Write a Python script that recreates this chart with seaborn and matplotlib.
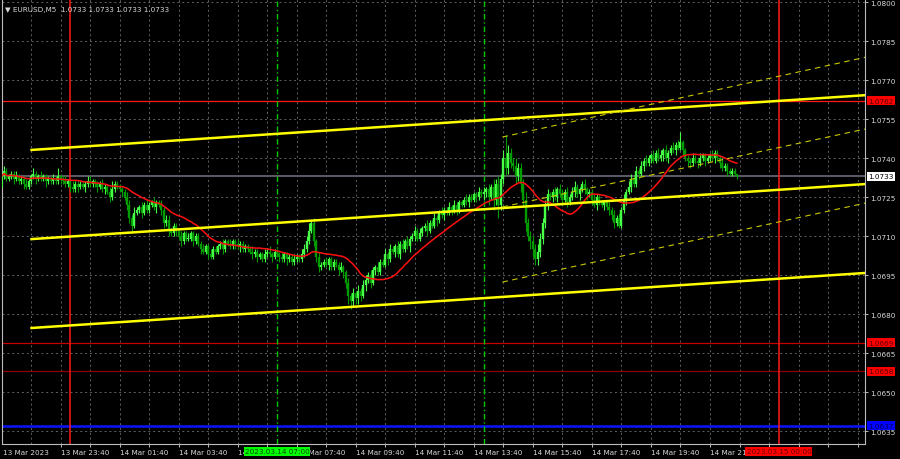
import numpy as np
import pandas as pd
import seaborn as sns
import matplotlib.pyplot as plt
from matplotlib.transforms import blended_transform_factory

# M5 closes in pips above 1.0700, first bar = 13 Mar 21:40 (bar -28, 14 Mar 00:00 = bar 0)
first_bar = -28
closes = [33, 35, 32, 33, 34, 32, 33, 31, 32, 30, 29, 31, 33, 34, 32, 33,
          32, 33, 31, 32, 31, 32, 31, 33, 32, 31, 30, 31, 29, 28, 30, 29,
          30, 29, 30, 31, 30, 31, 30, 29, 30, 28, 29, 27, 25, 28, 30, 29,
          28, 27, 25, 22, 17, 14, 19, 20, 21, 19, 22, 20, 22, 23, 21, 23,
          22, 20, 15, 16, 12, 11, 14, 12, 10, 8, 11, 9, 9, 11, 8, 10,
          7, 5, 4, 6, 3, 2, 5, 4, 6, 7, 5, 8, 7, 6, 8, 7,
          6, 7, 5, 6, 5, 4, 3, 4, 2, 3, 1, 3, 4, 3, 2, 4,
          3, 2, 1, 3, 1, 2, 0, 1, 2, 1, 3, 5, 8, 12, 15, 8,
          2, -2, -1, 0, -1, 1, -2, 0, -1, -3, -2, -4, -8, -13, -15, -12,
          -14, -11, -13, -9, -7, -5, -8, -3, -2, -4, 0, -1, 3, 1, 5, 4,
          6, 3, 7, 5, 8, 6, 9, 10, 12, 9, 11, 13, 14, 12, 15, 14,
          17, 16, 19, 18, 20, 19, 21, 20, 22, 20, 23, 22, 24, 23, 25, 24,
          26, 25, 27, 26, 27, 28, 25, 29, 24, 30, 22, 32, 40, 36, 42, 38,
          37, 33, 36, 30, 24, 15, 10, 8, 5, 1, 4, 9, 15, 22, 26, 25,
          27, 25, 28, 26, 24, 27, 23, 25, 27, 29, 26, 28, 30, 28, 26, 27,
          24, 22, 25, 23, 22, 23, 21, 20, 18, 15, 17, 14, 20, 24, 27, 29,
          32, 30, 35, 34, 37, 39, 38, 40, 41, 39, 42, 40, 41, 43, 40, 42,
          44, 43, 45, 44, 46, 43, 40, 39, 38, 40, 39, 38, 40, 41, 39, 40,
          41, 40, 42, 40, 38, 36, 37, 35, 34, 35, 34, 33]
wick_up = [1, 2, 1, 1, 1, 1, 2, 1, 1, 1, 2, 1, 1, 2, 1, 1,
           2, 1, 1, 1, 1, 2, 1, 3, 1, 1, 2, 1, 1, 2, 1, 1,
           1, 1, 1, 2, 2, 1, 1, 1, 1, 2, 1, 1, 2, 3, 1, 1,
           1, 1, 1, 2, 2, 1, 2, 1, 1, 2, 1, 2, 1, 1, 2, 1,
           1, 2, 1, 2, 2, 1, 1, 1, 1, 2, 1, 1, 2, 1, 1, 1,
           1, 1, 2, 1, 1, 2, 1, 1, 1, 1, 2, 1, 1, 2, 1, 1,
           2, 1, 1, 1, 1, 1, 2, 1, 1, 1, 1, 2, 1, 2, 1, 1,
           1, 1, 2, 1, 1, 1, 1, 2, 1, 1, 2, 2, 2, 3, 1, 2,
           1, 2, 1, 1, 2, 1, 1, 1, 1, 1, 2, 1, 1, 2, 1, 2,
           1, 2, 1, 2, 2, 1, 2, 1, 1, 2, 1, 1, 2, 1, 2, 1,
           1, 2, 1, 2, 1, 2, 1, 1, 2, 1, 2, 1, 1, 2, 1, 1,
           2, 1, 1, 2, 1, 1, 2, 1, 2, 1, 1, 1, 1, 2, 1, 1,
           1, 1, 2, 1, 2, 1, 2, 1, 3, 2, 3, 2, 3, 9, 3, 2,
           2, 3, 2, 2, 2, 3, 2, 2, 2, 2, 3, 2, 2, 2, 2, 1,
           1, 2, 1, 2, 2, 1, 2, 1, 2, 2, 1, 1, 1, 2, 1, 1,
           1, 2, 1, 1, 1, 1, 1, 2, 1, 2, 1, 2, 1, 2, 1, 2,
           2, 1, 2, 1, 2, 1, 2, 1, 1, 2, 1, 2, 2, 1, 2, 1,
           1, 2, 1, 2, 4, 1, 1, 1, 1, 2, 1, 1, 2, 1, 1, 1,
           1, 2, 1, 1, 1, 2, 1, 1, 1, 1, 1, 0]
wick_dn = [4, 1, 1, 1, 1, 2, 1, 1, 1, 2, 1, 1, 1, 1, 2, 1,
           1, 1, 2, 1, 1, 1, 1, 1, 2, 1, 1, 1, 2, 1, 1, 2,
           1, 1, 2, 1, 1, 1, 1, 2, 1, 1, 2, 1, 2, 1, 1, 1,
           1, 2, 1, 2, 2, 2, 1, 1, 1, 2, 1, 1, 1, 1, 1, 2,
           1, 2, 2, 1, 2, 1, 1, 2, 1, 2, 1, 1, 1, 1, 2, 1,
           1, 2, 1, 1, 2, 1, 1, 1, 1, 1, 2, 1, 1, 1, 1, 2,
           1, 2, 1, 1, 1, 1, 2, 1, 2, 1, 1, 1, 1, 1, 2, 1,
           1, 2, 1, 1, 2, 1, 1, 1, 1, 1, 1, 1, 1, 1, 1, 2,
           2, 2, 1, 1, 1, 2, 1, 1, 1, 2, 1, 2, 2, 3, 3, 2,
           2, 2, 2, 1, 2, 1, 2, 1, 2, 1, 1, 1, 1, 2, 1, 1,
           2, 1, 2, 1, 1, 1, 2, 1, 2, 1, 1, 1, 1, 2, 1, 1,
           1, 2, 1, 1, 2, 1, 1, 2, 1, 2, 1, 1, 1, 1, 2, 1,
           1, 2, 1, 1, 2, 2, 3, 1, 4, 2, 5, 2, 2, 3, 2, 2,
           2, 3, 2, 3, 3, 3, 2, 3, 3, 2, 2, 2, 2, 2, 2, 1,
           2, 1, 2, 1, 2, 1, 2, 1, 1, 2, 1, 2, 1, 2, 2, 1,
           2, 1, 2, 1, 1, 2, 1, 2, 2, 2, 1, 1, 1, 1, 2, 1,
           2, 1, 1, 2, 1, 2, 1, 1, 2, 1, 1, 1, 1, 2, 1, 2,
           1, 1, 2, 1, 1, 2, 1, 2, 2, 1, 1, 2, 1, 1, 2, 1,
           1, 1, 2, 1, 2, 1, 1, 2, 1, 1, 1, 1]

# trend lines (bar, price)
trend_x = [-16.3, 323.2]
trend_upper = [1.07431, 1.07642]
trend_mid = [1.07088, 1.07300]
trend_low = [1.06746, 1.06958]
chan_x = [175.6, 323.2]
chan_upper = [1.07481, 1.07788]
chan_mid = [1.07212, 1.07512]
chan_low = [1.06923, 1.07227]

# horizontal levels
levels = [1.0762, 1.0669, 1.0658]
level_colors = ['#ff1a1a', '#c80000', '#8a0000']
blue_level = 1.0637
last_price = 1.0733

y_ticks = [1.0635, 1.0650, 1.0665, 1.0680, 1.0695, 1.0710, 1.0725, 1.0740,
           1.0755, 1.0770, 1.0785, 1.0800]
x_tick_bars = [-4, 20, 44, 68, 92, 116, 140, 164, 188, 212, 236, 260]
x_tick_labels = ['13 Mar 23:40', '14 Mar 01:40', '14 Mar 03:40', '14 Mar 05:40',
                 '14 Mar 07:40', '14 Mar 09:40', '14 Mar 11:40', '14 Mar 13:40',
                 '14 Mar 15:40', '14 Mar 17:40', '14 Mar 19:40', '14 Mar 21:40']

sns.set_theme(style='dark', rc={'figure.facecolor': 'black', 'axes.facecolor': 'black'})
plt.rcParams['font.family'] = ['DejaVu Sans']
txt_col = '#d8d8d8'
fs = 5.2

bars = np.arange(first_bar, first_bar + len(closes))
c = 1.07 + np.array(closes) / 10000
o = np.r_[c[0], c[:-1]]
h = np.maximum(o, c) + np.array(wick_up) / 10000
l = np.minimum(o, c) - np.array(wick_dn) / 10000
df = pd.DataFrame({'bar': bars, 'close': c})
df['ma'] = df['close'].rolling(20, min_periods=1).mean()

fig = plt.figure(figsize=(9, 4.6), dpi=100)
ax = fig.add_axes([2 / 900, 15 / 460, 863 / 900, 445 / 460])
ax.set_facecolor('black')
ax.set_xlim(-27.8, 323.0)
ax.set_ylim(1.0630, 1.08012)

# grid
for yt in y_ticks:
    ax.axhline(yt, color='#626262', lw=0.7, ls=(0, (2, 3)), zorder=1)
for xb in range(-16, 323, 12):
    ax.axvline(xb, color='#626262', lw=0.7, ls=(0, (2, 3)), zorder=1)

# level lines
ax.axhline(last_price, color='#5c5c66', lw=1.4, zorder=2)
for lv, col in zip(levels, level_colors):
    ax.axhline(lv, color=col, lw=0.9, zorder=2)
ax.axhline(blue_level, color='#0a14ff', lw=1.8, zorder=2)

# session separators
ax.axvline(0, color='#ff1a1a', lw=1.1, zorder=2)
ax.axvline(288, color='#ff1a1a', lw=1.1, zorder=2)
for vb in (84, 168):
    ax.axvline(vb, color='#00c800', lw=1.0, ls=(0, (4, 2, 1, 2)), zorder=2)

# candles
up = c >= o
colors = np.where(up, '#48ff48', '#009c00')
ax.vlines(bars, l, h, colors=colors, lw=0.8, zorder=3)
body_lo = np.minimum(o, c)
body_hi = np.maximum(np.maximum(o, c), body_lo + 0.00003)
ax.vlines(bars, body_lo, body_hi, colors=colors, lw=1.7, zorder=3)

# moving average
sns.lineplot(data=df, x='bar', y='ma', color='#ff1010', lw=1.1, ax=ax, zorder=4)

# trend channel
for ys in (trend_upper, trend_mid, trend_low):
    ax.plot(trend_x, ys, color='#ffff00', lw=1.8, zorder=5, solid_capstyle='butt')
for ys in (chan_upper, chan_mid, chan_low):
    ax.plot(chan_x, ys, color='#c8c800', lw=0.8, ls=(0, (5, 4)), zorder=5)

ax.set_xlabel('')
ax.set_ylabel('')

# axes frame
for side in ('left', 'right', 'bottom'):
    ax.spines[side].set_color('#bbbbbb')
    ax.spines[side].set_linewidth(0.8)
    ax.spines[side].set_visible(True)
ax.spines['top'].set_visible(False)

ax.yaxis.tick_right()
ax.set_yticks(y_ticks)
ax.set_yticklabels([f'{v:.4f}' for v in y_ticks])
ax.tick_params(axis='y', colors=txt_col, labelsize=fs, length=2, width=0.6, pad=2,
               left=False, right=True, labelright=True, labelleft=False)
ax.set_xticks(list(range(-4, 323, 12)))
ax.set_xticklabels(['' for _ in range(-4, 323, 12)])
ax.tick_params(axis='x', colors=txt_col, length=2, width=0.6, bottom=True)

tx = blended_transform_factory(ax.transData, ax.transAxes)
ty = blended_transform_factory(ax.transAxes, ax.transData)
for xb, lab in zip(x_tick_bars, x_tick_labels):
    ax.text(xb, -0.012, lab, transform=tx, ha='left', va='top', fontsize=fs,
            color=txt_col, clip_on=False, zorder=6)
ax.text(-27.2, -0.012, '13 Mar 2023', transform=tx, ha='left', va='top', fontsize=fs,
        color=txt_col, clip_on=False)

# time boxes on the axis
ax.text(84, -0.010, '2023.03.14 07:00', transform=tx, ha='center', va='top', fontsize=fs,
        color='#004400', clip_on=False, zorder=8,
        bbox=dict(boxstyle='square,pad=0.15', fc='#00ff00', ec='none'))
ax.text(288, -0.010, '2023.03.15 00:00', transform=tx, ha='center', va='top', fontsize=fs,
        color='#6a0000', clip_on=False, zorder=8,
        bbox=dict(boxstyle='square,pad=0.15', fc='#ff0000', ec='none'))

# price boxes on the right
boxes = [(1.0762, '#ff0000', '#5a0000'), (1.0669, '#ff0000', '#5a0000'),
         (1.0658, '#ff0000', '#5a0000'), (1.0637, '#0000ff', '#00005a'),
         (1.0733, '#ffffff', '#000000')]
for val, fc, tc in boxes:
    ax.text(1.004, val, f'{val:.4f}', transform=ty, ha='left', va='center', fontsize=fs,
            color=tc, clip_on=False, zorder=8,
            bbox=dict(boxstyle='square,pad=0.2', fc=fc, ec='none'))

# header
ax.text(0.004, 0.985, '\u25bc EURUSD,M5  1.0733 1.0733 1.0733 1.0733', transform=ax.transAxes,
        ha='left', va='top', fontsize=fs, color=txt_col, zorder=8)

fig.savefig('out.png', dpi=100, facecolor='black')
